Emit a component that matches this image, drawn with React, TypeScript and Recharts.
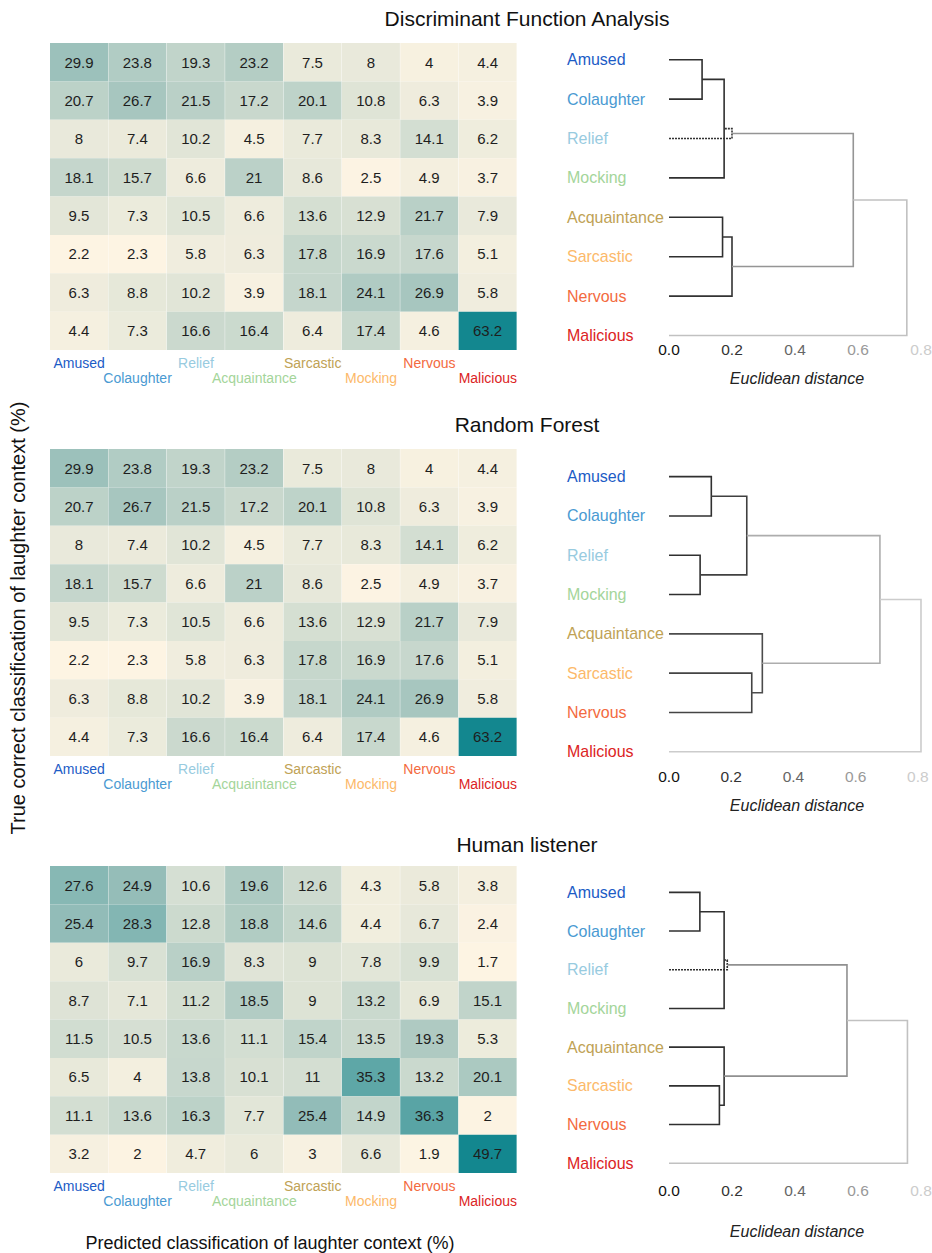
import React from 'react';
import { BarChart, Bar, XAxis, YAxis, Cell, LabelList, ScatterChart, Scatter } from 'recharts';

const FONT = '"Liberation Sans", Arial, sans-serif';

const ROW_LABELS = ['Amused', 'Colaughter', 'Relief', 'Mocking', 'Acquaintance', 'Sarcastic', 'Nervous', 'Malicious'];
const COL_LABELS = ['Amused', 'Colaughter', 'Relief', 'Acquaintance', 'Sarcastic', 'Mocking', 'Nervous', 'Malicious'];
const LABEL_COLORS = ['#1c5cc6', '#4a9ad2', '#98cbdf', '#a4d59a', '#c0a255', '#fcb96a', '#f36a40', '#dc2424'];
const DIST_TICKS = [0, 0.2, 0.4, 0.6, 0.8];

const dfaValues = [
  [29.9, 23.8, 19.3, 23.2, 7.5, 8, 4, 4.4],
  [20.7, 26.7, 21.5, 17.2, 20.1, 10.8, 6.3, 3.9],
  [8, 7.4, 10.2, 4.5, 7.7, 8.3, 14.1, 6.2],
  [18.1, 15.7, 6.6, 21, 8.6, 2.5, 4.9, 3.7],
  [9.5, 7.3, 10.5, 6.6, 13.6, 12.9, 21.7, 7.9],
  [2.2, 2.3, 5.8, 6.3, 17.8, 16.9, 17.6, 5.1],
  [6.3, 8.8, 10.2, 3.9, 18.1, 24.1, 26.9, 5.8],
  [4.4, 7.3, 16.6, 16.4, 6.4, 17.4, 4.6, 63.2],
];

const rfValues = [
  [29.9, 23.8, 19.3, 23.2, 7.5, 8, 4, 4.4],
  [20.7, 26.7, 21.5, 17.2, 20.1, 10.8, 6.3, 3.9],
  [8, 7.4, 10.2, 4.5, 7.7, 8.3, 14.1, 6.2],
  [18.1, 15.7, 6.6, 21, 8.6, 2.5, 4.9, 3.7],
  [9.5, 7.3, 10.5, 6.6, 13.6, 12.9, 21.7, 7.9],
  [2.2, 2.3, 5.8, 6.3, 17.8, 16.9, 17.6, 5.1],
  [6.3, 8.8, 10.2, 3.9, 18.1, 24.1, 26.9, 5.8],
  [4.4, 7.3, 16.6, 16.4, 6.4, 17.4, 4.6, 63.2],
];

const humanValues = [
  [27.6, 24.9, 10.6, 19.6, 12.6, 4.3, 5.8, 3.8],
  [25.4, 28.3, 12.8, 18.8, 14.6, 4.4, 6.7, 2.4],
  [6, 9.7, 16.9, 8.3, 9, 7.8, 9.9, 1.7],
  [8.7, 7.1, 11.2, 18.5, 9, 13.2, 6.9, 15.1],
  [11.5, 10.5, 13.6, 11.1, 15.4, 13.5, 19.3, 5.3],
  [6.5, 4, 13.8, 10.1, 11, 35.3, 13.2, 20.1],
  [11.1, 13.6, 16.3, 7.7, 25.4, 14.9, 36.3, 2],
  [3.2, 2, 4.7, 6, 3, 6.6, 1.9, 49.7],
];

// merges: [childA, childB, height, dashed]; ids < 8 are leaves (row order), new nodes get 8, 9, ...
const dfaMerges: [number, number, number, boolean?][] = [
  [0, 1, 0.105],
  [8, 3, 0.175],
  [2, 9, 0.2, true],
  [4, 5, 0.17],
  [11, 6, 0.2],
  [10, 12, 0.585],
  [13, 7, 0.755],
];

const rfMerges: [number, number, number, boolean?][] = [
  [0, 1, 0.136],
  [2, 3, 0.1],
  [8, 9, 0.25],
  [5, 6, 0.266],
  [4, 11, 0.3],
  [10, 12, 0.678],
  [13, 7, 0.81],
];

const humanMerges: [number, number, number, boolean?][] = [
  [0, 1, 0.098],
  [8, 3, 0.175],
  [2, 9, 0.185, true],
  [5, 6, 0.16],
  [4, 11, 0.175],
  [10, 12, 0.565],
  [13, 7, 0.757],
];

// colour ramp: cream -> pale sage -> teal
const RAMP: [number, number[]][] = [
  [0, [253, 244, 227]],
  [0.45, [157, 193, 187]],
  [1, [19, 135, 143]],
];

function heatColor(v: number, min: number, max: number) {
  const t = (v - min) / (max - min);
  const k = t <= RAMP[1][0] ? 0 : 1;
  const [t0, c0] = RAMP[k];
  const [t1, c1] = RAMP[k + 1];
  const s = (t - t0) / (t1 - t0);
  const c = c0.map((a, i) => Math.round(a + (c1[i] - a) * s));
  return `rgb(${c[0]},${c[1]},${c[2]})`;
}

function distGray(h: number, floor: number) {
  const v = Math.round(Math.max(floor, Math.min(204, (h / 0.8) * 204)));
  return `rgb(${v},${v},${v})`;
}

function buildLinks(merges: [number, number, number, boolean?][]) {
  const nodes = ROW_LABELS.map((_, i) => ({ y: i, h: 0 }));
  return merges.map(([a, b, h, dashed]) => {
    const A = nodes[a];
    const B = nodes[b];
    nodes.push({ y: (A.y + B.y) / 2, h });
    return {
      points: [
        { x: A.h, y: A.y },
        { x: h, y: A.y },
        { x: h, y: B.y },
        { x: B.h, y: B.y },
      ],
      h,
      dashed: !!dashed,
    };
  });
}

const ColTick = (props: any) => {
  const { x, y, payload } = props;
  const i = COL_LABELS.indexOf(payload.value);
  return (
    <text x={x} y={y + (i % 2 === 0 ? 13 : 28)} textAnchor="middle" dominantBaseline="central"
      fill={LABEL_COLORS[i]} fontSize={14} fontFamily={FONT}>
      {payload.value}
    </text>
  );
};

const Heatmap = ({ values }: { values: number[][] }) => {
  const flat = values.flat();
  const min = Math.min(...flat);
  const max = Math.max(...flat);
  const data = COL_LABELS.map((name, j) => {
    const row: any = { name };
    values.forEach((r, i) => {
      row[`r${i}`] = 1;
      row[`v${i}`] = r[j];
    });
    return row;
  });
  return (
    <BarChart width={467} height={347} data={data} margin={{ top: 0, right: 0, bottom: 0, left: 0 }}
      barCategoryGap={0} barGap={0}>
      <XAxis dataKey="name" axisLine={false} tickLine={false} tickSize={0} tickMargin={0} height={40}
        interval={0} tick={<ColTick />} />
      <YAxis hide type="number" domain={[0, 8]} reversed />
      {values.map((r, i) => (
        <Bar key={i} dataKey={`r${i}`} stackId="cells" isAnimationActive={false}>
          {r.map((v, j) => (
            <Cell key={j} fill={heatColor(v, min, max)} />
          ))}
          <LabelList dataKey={`v${i}`} position="center" fill="#1e1e1e" stroke="none" fontSize={15}
            fontFamily={FONT} />
        </Bar>
      ))}
    </BarChart>
  );
};

const EmptyShape = () => <g />;

const Dendrogram = ({ merges, step, tickOffset }: { merges: [number, number, number, boolean?][]; step: number; tickOffset: number }) => {
  const links = buildLinks(merges);
  const plotH = 7.55 * step;
  const LeafTick = (props: any) => {
    const { x, y, payload } = props;
    const i = payload.value;
    return (
      <text x={x - 102} y={y} textAnchor="start" dominantBaseline="central" fill={LABEL_COLORS[i]}
        fontSize={16} fontFamily={FONT}>
        {ROW_LABELS[i]}
      </text>
    );
  };
  const DistTick = (props: any) => {
    const { x, y, payload } = props;
    return (
      <text x={x} y={y + tickOffset} textAnchor="middle" dominantBaseline="central"
        fill={distGray(payload.value, 17)} fontSize={15.5} fontFamily={FONT}>
        {payload.value.toFixed(1)}
      </text>
    );
  };
  return (
    <ScatterChart width={372} height={plotH + 50} margin={{ top: 0, right: 11, bottom: 0, left: 0 }}>
      <XAxis type="number" dataKey="x" domain={[0, 0.8]} ticks={DIST_TICKS} axisLine={false} tickLine={false}
        tickSize={0} tickMargin={0} height={50} tick={<DistTick />} />
      <YAxis type="number" dataKey="y" domain={[-0.5, 7.05]} reversed ticks={[0, 1, 2, 3, 4, 5, 6, 7]}
        axisLine={false} tickLine={false} tickSize={0} tickMargin={0} width={109} tick={<LeafTick />} />
      {links.map((l, k) => (
        <Scatter key={k} data={l.points} isAnimationActive={false} shape={EmptyShape} lineType="joint"
          fill="none"
          line={{ stroke: distGray(l.h, 48), strokeWidth: 1.6, strokeDasharray: l.dashed ? '2 1' : undefined }} />
      ))}
    </ScatterChart>
  );
};

const panels = [
  { title: 'Discriminant Function Analysis', values: dfaValues, merges: dfaMerges, titleY: 19, heatTop: 43, leaf0: 60, step: 39.4, tickOffset: 12, distY: 379 },
  { title: 'Random Forest', values: rfValues, merges: rfMerges, titleY: 425, heatTop: 449, leaf0: 477, step: 39.3, tickOffset: 23, distY: 806 },
  { title: 'Human listener', values: humanValues, merges: humanMerges, titleY: 845, heatTop: 866, leaf0: 892, step: 38.7, tickOffset: 25, distY: 1232 },
];

const abs = (left: number, top: number): React.CSSProperties => ({ position: 'absolute', left, top });

export default function App() {
  return (
    <div style={{ position: 'absolute', left: 0, top: 0, width: 932, height: 1253, background: '#fff', fontFamily: FONT, color: '#111', overflow: 'hidden' }}>
      {panels.map((p) => (
        <React.Fragment key={p.title}>
          <div style={{ ...abs(327, p.titleY - 13), width: 400, textAlign: 'center', fontSize: 21, lineHeight: '26px' }}>{p.title}</div>
          <div style={abs(50, p.heatTop)}>
            <Heatmap values={p.values} />
          </div>
          <div style={abs(560, p.leaf0 - 0.5 * p.step)}>
            <Dendrogram merges={p.merges} step={p.step} tickOffset={p.tickOffset} />
          </div>
          <div style={{ ...abs(697, p.distY - 10), width: 200, textAlign: 'center', fontSize: 16, lineHeight: '20px', fontStyle: 'italic', color: '#222' }}>
            Euclidean distance
          </div>
        </React.Fragment>
      ))}
      <div style={{ ...abs(18 - 250, 618 - 12), width: 500, textAlign: 'center', fontSize: 20, lineHeight: '24px', transform: 'rotate(-90deg)' }}>
        True correct classification of laughter context (%)
      </div>
      <div style={{ ...abs(20, 1232), width: 500, textAlign: 'center', fontSize: 18, lineHeight: '22px' }}>
        Predicted classification of laughter context (%)
      </div>
    </div>
  );
}
